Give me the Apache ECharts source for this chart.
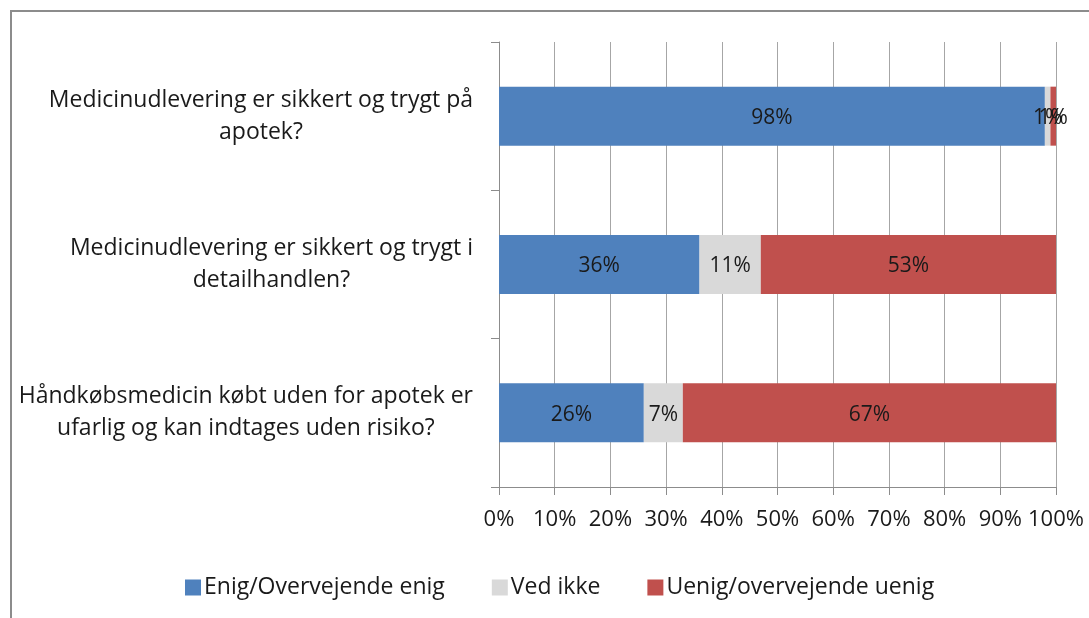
<!DOCTYPE html>
<html>
<head>
<meta charset="utf-8">
<script src="https://cdn.jsdelivr.net/npm/echarts@6/dist/echarts.min.js"></script>
<style>
  html, body { margin: 0; padding: 0; background: #fff; }
  #main { width: 1089px; height: 618px; }
</style>
</head>
<body>
<div id="main"></div>
<script>
// survey statements (top to bottom)
const questions = [
  'Medicinudlevering er sikkert og trygt på\napotek?',
  'Medicinudlevering er sikkert og trygt i\ndetailhandlen?',
  'Håndkøbsmedicin købt uden for apotek er\nufarlig og kan indtages uden risiko?'
];
const seriesNames = ['Enig/Overvejende enig', 'Ved ikke', 'Uenig/overvejende uenig'];
const enig = [98, 36, 26];
const vedIkke = [1, 11, 7];
const uenig = [1, 53, 67];
const xTicks = [0, 10, 20, 30, 40, 50, 60, 70, 80, 90, 100];

const colors = ['#4f81bd', '#d9d9d9', '#c0504d'];
const font = 'Open Sans';
const textColor = '#1a1a1a';

const makeSeries = (name, data) => ({
  name: name,
  type: 'bar',
  stack: 'total',
  barWidth: 59,
  data: data,
  label: {
    show: true,
    position: 'inside',
    offset: [0, 2],
    formatter: '{c}%',
    fontFamily: font,
    fontSize: 21,
    color: textColor
  }
});

const myChart = echarts.init(document.getElementById('main'), null, { renderer: 'canvas' });
myChart.setOption({
  animation: false,
  color: colors,
  textStyle: { fontFamily: font },
  graphic: [{
    type: 'rect',
    shape: { x: 11, y: 11, width: 1200, height: 800 },
    style: { fill: null, stroke: '#8c8c8c', lineWidth: 2 },
    silent: true
  }],
  grid: { left: 499, right: 33, top: 42, bottom: 131 },
  legend: {
    bottom: 14,
    left: 180,
    itemWidth: 16,
    itemHeight: 16,
    itemGap: 47,
    icon: 'rect',
    textStyle: { fontFamily: font, fontSize: 23, color: textColor, padding: [0, 0, 0, -2] },
    data: seriesNames
  },
  xAxis: {
    type: 'value',
    min: 0,
    max: 100,
    interval: 10,
    axisLine: { show: true, lineStyle: { color: '#8c8c8c' } },
    axisTick: { show: true, length: 8, lineStyle: { color: '#8c8c8c' } },
    splitLine: { show: true, lineStyle: { color: '#a6a6a6' } },
    axisLabel: {
      formatter: v => xTicks.includes(v) ? v + '%' : '',
      fontFamily: font,
      fontSize: 22,
      color: textColor,
      margin: 22
    }
  },
  yAxis: {
    type: 'category',
    inverse: true,
    data: questions,
    axisLine: { show: true, lineStyle: { color: '#8c8c8c' } },
    axisTick: { show: true, length: 8, lineStyle: { color: '#8c8c8c' } },
    axisLabel: {
      margin: 26,
      formatter: v => v.split('\n').map(s => '{c|' + s + '}').join('\n'),
      rich: {
        c: { align: 'center', fontFamily: font, fontSize: 23, lineHeight: 32, color: textColor }
      }
    }
  },
  series: [
    makeSeries(seriesNames[0], enig),
    makeSeries(seriesNames[1], vedIkke),
    makeSeries(seriesNames[2], uenig)
  ]
});
</script>
</body>
</html>
